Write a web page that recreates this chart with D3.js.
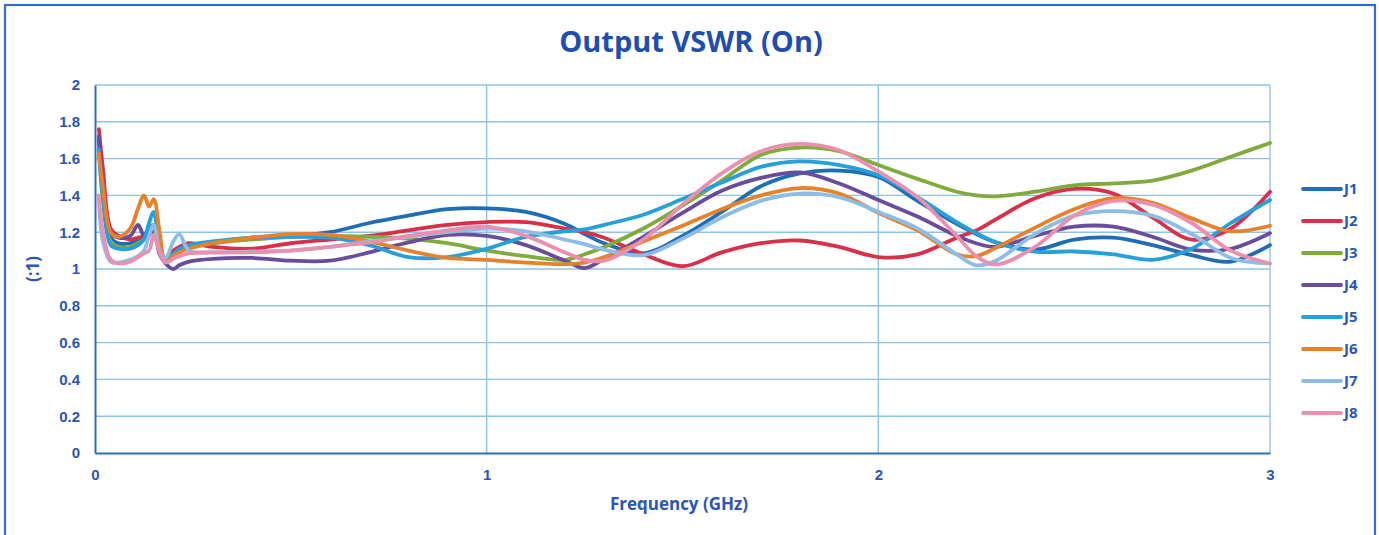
<!DOCTYPE html>
<html><head><meta charset="utf-8">
<script src="https://cdn.jsdelivr.net/npm/d3@7/dist/d3.min.js"></script>
<style>
html,body{margin:0;padding:0;background:#fff;}
svg{display:block;font-family:"Open Sans","Liberation Sans",sans-serif;}
</style></head>
<body>
<svg id="chart" width="1379" height="535"></svg>
<script>
const freq = [0.01,0.02,0.04,0.06,0.09,0.11,0.125,0.138,0.15,0.165,0.18,0.2,0.215,0.24,0.3,0.4,0.5,0.6,0.7,0.8,0.9,1.0,1.1,1.2,1.25,1.3,1.4,1.5,1.6,1.7,1.8,1.9,2.0,2.1,2.2,2.25,2.3,2.4,2.5,2.6,2.7,2.8,2.9,3.0];
const seriesNames = ["J1","J2","J3","J4","J5","J6","J7","J8"];
const J1 = [1.70,1.45,1.17,1.14,1.14,1.16,1.18,1.22,1.24,1.12,1.05,1.07,1.10,1.12,1.14,1.17,1.18,1.20,1.25,1.29,1.325,1.33,1.31,1.245,1.19,1.14,1.085,1.18,1.31,1.45,1.52,1.535,1.50,1.37,1.245,1.19,1.145,1.105,1.16,1.17,1.13,1.075,1.04,1.13];
const J2 = [1.76,1.55,1.22,1.18,1.16,1.17,1.18,1.20,1.22,1.10,1.06,1.10,1.12,1.14,1.12,1.11,1.14,1.16,1.18,1.21,1.24,1.255,1.255,1.22,1.20,1.17,1.08,1.015,1.09,1.14,1.155,1.12,1.065,1.08,1.17,1.21,1.27,1.385,1.436,1.41,1.28,1.16,1.22,1.42];
const J3 = [1.65,1.40,1.15,1.12,1.12,1.14,1.16,1.19,1.22,1.10,1.05,1.08,1.10,1.12,1.14,1.16,1.175,1.18,1.175,1.165,1.14,1.10,1.07,1.05,1.08,1.12,1.22,1.345,1.48,1.62,1.66,1.64,1.565,1.49,1.42,1.40,1.395,1.42,1.455,1.465,1.48,1.535,1.61,1.685];
const J4 = [1.72,1.45,1.20,1.17,1.18,1.24,1.18,1.19,1.20,1.08,1.03,1.00,1.02,1.04,1.055,1.06,1.045,1.045,1.09,1.145,1.185,1.18,1.13,1.045,1.005,1.055,1.175,1.305,1.425,1.495,1.525,1.465,1.375,1.285,1.18,1.14,1.12,1.18,1.23,1.23,1.175,1.105,1.11,1.195];
const J5 = [1.65,1.38,1.13,1.11,1.11,1.13,1.16,1.25,1.31,1.12,1.05,1.08,1.11,1.13,1.15,1.17,1.175,1.17,1.13,1.065,1.065,1.11,1.175,1.205,1.215,1.24,1.295,1.38,1.47,1.555,1.585,1.565,1.51,1.39,1.255,1.195,1.145,1.095,1.095,1.08,1.05,1.11,1.25,1.375];
const J6 = [1.63,1.45,1.20,1.175,1.22,1.33,1.40,1.34,1.38,1.20,1.04,1.07,1.09,1.11,1.14,1.17,1.19,1.185,1.15,1.10,1.06,1.05,1.035,1.027,1.035,1.065,1.15,1.235,1.325,1.40,1.44,1.41,1.305,1.21,1.08,1.07,1.115,1.225,1.325,1.385,1.36,1.275,1.205,1.235];
const J7 = [1.38,1.15,1.04,1.035,1.05,1.07,1.10,1.18,1.24,1.10,1.06,1.15,1.19,1.10,1.09,1.095,1.10,1.12,1.15,1.175,1.20,1.22,1.205,1.16,1.135,1.105,1.075,1.165,1.28,1.37,1.41,1.39,1.31,1.22,1.08,1.02,1.045,1.19,1.29,1.315,1.29,1.19,1.06,1.03];
const J8 = [1.40,1.20,1.05,1.03,1.04,1.065,1.085,1.10,1.185,1.09,1.035,1.055,1.07,1.085,1.09,1.09,1.10,1.12,1.145,1.18,1.21,1.23,1.18,1.09,1.05,1.045,1.16,1.35,1.52,1.64,1.68,1.645,1.53,1.39,1.18,1.07,1.025,1.12,1.29,1.37,1.35,1.25,1.10,1.03];
const seriesValues = [J1,J2,J3,J4,J5,J6,J7,J8];
const seriesColors = ["#1f6db5","#d9304a","#7fab3c","#6a4c9c","#25a0da","#e8822a","#8dbde6","#ec8fae"];
const yTicks = [0,0.2,0.4,0.6,0.8,1,1.2,1.4,1.6,1.8,2];
const xTicks = [0,1,2,3];

const svg = d3.select("#chart");
const L = 95, R = 1270, T = 85, B = 453;
const x = d3.scaleLinear().domain([0,3]).range([L,R]);
const y = d3.scaleLinear().domain([0,2]).range([B,T]);
const txt = "#2a56b4";

// outer frame
svg.append("rect").attr("x",5).attr("y",5).attr("width",1370).attr("height",545)
  .attr("fill","none").attr("stroke","#2f6fcc").attr("stroke-width",2.2);

// grid
const g = svg.append("g");
g.selectAll(".hg").data(yTicks.filter(d=>d>0)).join("line")
  .attr("x1",L).attr("x2",R).attr("y1",d=>y(d)).attr("y2",d=>y(d))
  .attr("stroke","#8fc3e6").attr("stroke-width",1.4);
g.selectAll(".vg").data(xTicks.filter(d=>d>0)).join("line")
  .attr("x1",d=>x(d)).attr("x2",d=>x(d)).attr("y1",T).attr("y2",B)
  .attr("stroke","#8fc3e6").attr("stroke-width",1.4);

// axes
const yAxis = d3.axisLeft(y).tickValues(yTicks).tickSize(0).tickPadding(15).tickFormat(d3.format(""));
const ya = svg.append("g").attr("transform",`translate(${L},0)`).call(yAxis);
const xAxis = d3.axisBottom(x).tickValues(xTicks).tickSize(0).tickPadding(16).tickFormat(d3.format(""));
const xa = svg.append("g").attr("transform",`translate(0,${B})`).call(xAxis);
[ya,xa].forEach(a=>{
  a.select(".domain").attr("stroke","#2e6cc0").attr("stroke-width",2);
  a.selectAll("text").attr("fill",txt).attr("font-size",15).attr("font-weight","bold");
});

// lines
const line = d3.line().x((d,i)=>x(freq[i])).y(d=>y(d)).curve(d3.curveCatmullRom.alpha(0.5));
svg.append("g").selectAll("path").data(seriesValues).join("path")
  .attr("d",d=>line(d)).attr("fill","none")
  .attr("stroke",(d,i)=>seriesColors[i]).attr("stroke-width",3.8)
  .attr("stroke-linejoin","round").attr("stroke-linecap","round");

// title
svg.append("text").attr("x",691).attr("y",52).attr("text-anchor","middle")
  .attr("fill","#1f4fae").attr("font-size",29).attr("font-weight","bold").text("Output VSWR (On)");
// axis titles
svg.append("text").attr("x",679).attr("y",510).attr("text-anchor","middle")
  .attr("fill",txt).attr("font-size",17).attr("font-weight","bold").text("Frequency (GHz)");
svg.append("text").attr("transform","translate(39,269) rotate(-90)").attr("text-anchor","middle")
  .attr("fill",txt).attr("font-size",17).attr("font-weight","bold").text("(:1)");

// legend
const legY = [189,221,253,285,317,349,381,413];
const leg = svg.append("g").selectAll("g").data(seriesNames).join("g")
  .attr("transform",(d,i)=>`translate(1303,${legY[i]})`);
leg.append("line").attr("x1",0).attr("x2",38).attr("y1",0).attr("y2",0)
  .attr("stroke",(d,i)=>seriesColors[i]).attr("stroke-width",3.8).attr("stroke-linecap","round");
leg.append("text").attr("x",41).attr("y",5).attr("fill",txt).attr("font-size",15).attr("font-weight","bold").text(d=>d);
</script>
</body></html>
